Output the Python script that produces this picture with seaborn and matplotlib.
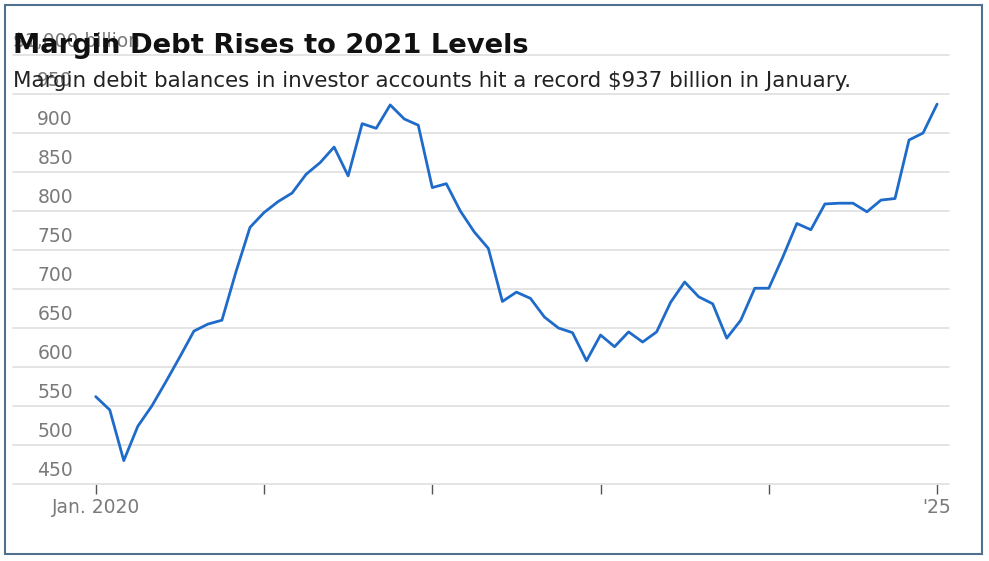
import matplotlib
matplotlib.use("Agg")
import matplotlib.pyplot as plt
import matplotlib.transforms as mtransforms
import seaborn as sns
import pandas as pd

# Margin debt balances, $ billion, monthly Jan 2020 - Jan 2025
months = pd.date_range("2020-01-01", "2025-01-01", freq="MS")
margin_debt = [
    562, 545, 480, 524, 550, 581, 613, 646, 655, 660, 722, 779,
    798, 812, 823, 847, 862, 882, 845, 912, 906, 936, 918, 910,
    830, 835, 800, 773, 752, 684, 696, 688, 664, 650, 644, 608,
    641, 626, 645, 632, 645, 683, 709, 690, 681, 637, 660, 701,
    701, 741, 784, 776, 809, 810, 810, 799, 814, 816, 891, 900,
    937,
]
y_ticks = [450, 500, 550, 600, 650, 700, 750, 800, 850, 900, 950, 1000]
x_tick_labels = ["Jan. 2020", "", "", "", "", "'25"]

title = "Margin Debt Rises to 2021 Levels"
subtitle = "Margin debit balances in investor accounts hit a record $937 billion in January."

df = pd.DataFrame({"month": range(len(months)), "debt": margin_debt})

sns.set_style("white")
plt.rcParams["font.family"] = ["DejaVu Sans"]
GRAY = "#7a7a7a"

fig = plt.figure(figsize=(9.89, 5.61), dpi=100)
ax = fig.add_axes([13 / 989, 1 - 484 / 561, 936 / 989, 429 / 561])

sns.lineplot(data=df, x="month", y="debt", ax=ax, color="#1f6bc9", linewidth=2.0)

ax.set_ylim(450, 1000)
ax.set_xlim(-5.9, 60.85)
ax.set_yticks(y_ticks)
ax.set_yticklabels([])
ax.yaxis.grid(True, color="#e2e2e2", linewidth=1.3)
for gl in ax.get_ygridlines():
    gl.set_clip_on(False)
ax.xaxis.grid(False)
for s in ax.spines.values():
    s.set_visible(False)
ax.tick_params(axis="y", length=0)

ax.set_xticks(range(0, len(months), 12))
ax.set_xticklabels(x_tick_labels)
ax.tick_params(axis="x", bottom=True, length=7, width=1, color="#555555",
               labelsize=13.5, pad=3)
for lab in ax.get_xticklabels():
    lab.set_color(GRAY)
ax.set_xlabel("")
ax.set_ylabel("")

# y labels sit above their gridlines, inside the plot
trans = mtransforms.blended_transform_factory(ax.transAxes, ax.transData)
for v in y_ticks:
    if v == 1000:
        ax.annotate("$1,000 billion", (0, v), xycoords=trans, xytext=(0, 5.5),
                    textcoords="offset points", ha="left", va="baseline",
                    fontsize=13.5, color=GRAY)
    else:
        ax.annotate(str(v), (60 / 936, v), xycoords=trans, xytext=(0, 5.5),
                    textcoords="offset points", ha="right", va="baseline",
                    fontsize=13.5, color=GRAY)

t1 = fig.text(13 / 989, 1 - 53 / 561, title, fontsize=20, fontweight="bold",
              family=["DejaVu Sans"], color="#111111", va="baseline")
t2 = fig.text(13 / 989, 1 - 87 / 561, subtitle, fontsize=14,
              family=["DejaVu Sans"], color="#222222", va="baseline")

# fit header widths to the reference layout
renderer = fig.canvas.get_renderer()
for txt, target in [(t1, 517), (t2, 842)]:
    w = txt.get_window_extent(renderer).width
    txt.set_fontsize(txt.get_fontsize() * target / w)

fig.add_artist(plt.Rectangle((5 / 989, 1 - 554 / 561), 977 / 989, 549 / 561,
                             transform=fig.transFigure, fill=False,
                             edgecolor="#50708f", linewidth=1.5))

fig.savefig("out.png", dpi=100, facecolor="white")
